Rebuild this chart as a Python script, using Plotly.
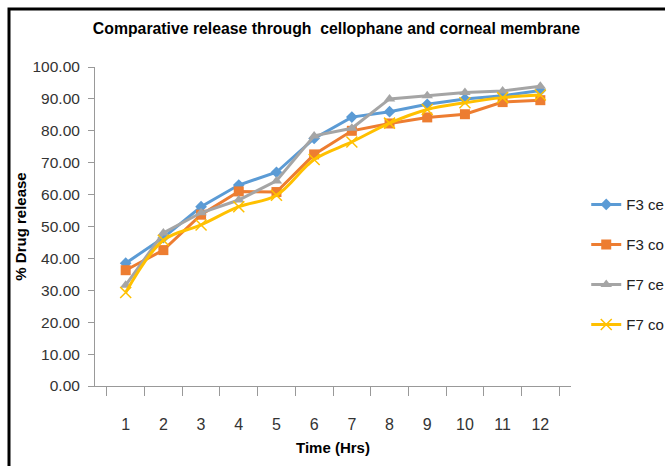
import plotly.graph_objects as go

hours = ["1", "2", "3", "4", "5", "6", "7", "8", "9", "10", "11", "12"]
f3_cellophane = [38.5, 46.5, 56.2, 63.0, 67.0, 77.6, 84.3, 86.0, 88.3, 90.0, 91.0, 92.6]
f3_corneal = [36.3, 42.6, 53.7, 61.0, 60.8, 72.6, 80.0, 82.3, 84.2, 85.2, 89.0, 89.6]
f7_cellophane = [31.6, 48.0, 54.3, 58.3, 64.3, 78.4, 80.8, 90.0, 91.0, 92.0, 92.5, 94.0]
f7_corneal = [29.3, 45.7, 50.5, 56.2, 59.8, 71.0, 76.5, 82.4, 86.7, 88.8, 90.4, 91.2]

# legend labels as visible in the (cropped) reference
names = ["F3 ce", "F3 co", "F7 ce", "F7 co"]
colors = ["#5B9BD5", "#ED7D31", "#A5A5A5", "#FFC000"]
symbols = ["diamond", "square", "triangle-up", "x-thin"]
sizes = [9, 10, 10, 11]
shapes_line = ["linear", "linear", "linear", "spline"]
series = [f3_cellophane, f3_corneal, f7_cellophane, f7_corneal]

FONT = "Liberation Sans, Arial, sans-serif"

fig = go.Figure()
for i, (nm, ys) in enumerate(zip(names, series)):
    marker = dict(color=colors[i], size=sizes[i], symbol=symbols[i])
    if symbols[i] == "x-thin":
        marker["line"] = dict(color=colors[i], width=1.5)
    fig.add_trace(go.Scatter(
        x=hours, y=ys, name=nm, mode="lines+markers",
        line=dict(color=colors[i], width=3, shape=shapes_line[i]),
        marker=marker, legendgroup=nm,
    ))

fig.update_layout(
    width=665, height=466,
    margin=dict(l=95, r=94, t=67, b=80, autoexpand=False),
    paper_bgcolor="white", plot_bgcolor="white",
    font=dict(family=FONT, size=16, color="#333333"),
    title=dict(text="Comparative release through  cellophane and corneal membrane",
               x=0.506, xanchor="center", y=0.938, yanchor="middle",
               font=dict(family=FONT, size=15.8, color="black", weight="bold")),
    showlegend=True,
    legend=dict(x=1.032, xanchor="left", y=0.62, yanchor="top",
                traceorder="grouped", tracegroupgap=17.5,
                font=dict(family=FONT, size=15, color="#222222"),
                bgcolor="rgba(0,0,0,0)"),
    xaxis=dict(type="category", showgrid=False, showline=True, linecolor="#999999",
               linewidth=1, ticks="outside", ticklen=9, tickcolor="#999999",
               tickson="boundaries", ticklabelstandoff=24,
               tickfont=dict(family=FONT, size=16, color="#333333"),
               title=dict(text="Time (Hrs)", standoff=10,
                          font=dict(family=FONT, size=15, color="black", weight="bold"))),
    yaxis=dict(range=[0, 100], dtick=10, tickformat=".2f", showgrid=False, zeroline=False,
               showline=True, linecolor="#999999", linewidth=1, ticks="outside",
               ticklen=6, tickcolor="#999999", ticklabelstandoff=5,
               tickfont=dict(family=FONT, size=15.5, color="#333333"),
               title=dict(text="% Drug release", standoff=2,
                          font=dict(family=FONT, size=15, color="black", weight="bold"))),
)

fig.add_shape(type="rect", xref="paper", yref="paper",
              x0=(9 - 95) / 476, x1=1.6, y0=-0.6, y1=1 + (67 - 9) / 319,
              line=dict(color="black", width=3), fillcolor="rgba(0,0,0,0)")

fig.write_html("out.html")
